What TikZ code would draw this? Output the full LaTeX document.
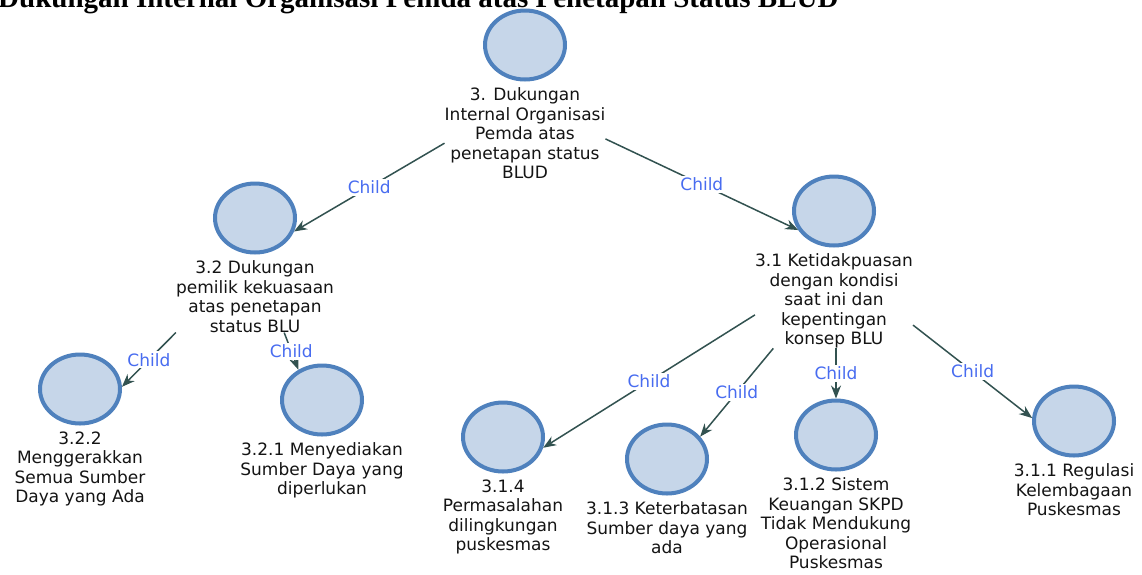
\documentclass[tikz,border=0pt]{standalone}
\usepackage{fontspec}
\usepackage{tikz}
\usetikzlibrary{positioning,shapes.geometric,arrows.meta}
\newfontfamily\diagfont{DejaVu Sans}
\newfontfamily\titlefont{Liberation Serif}
\definecolor{ringblue}{RGB}{79,129,189}
\definecolor{ballfill}{RGB}{198,214,233}
\definecolor{linkgray}{RGB}{50,82,80}
\definecolor{childblue}{RGB}{72,108,240}

\begin{document}
\begin{tikzpicture}[x=1pt, y=-1pt,
        every node/.style={font=\diagfont\fontsize{17}{19.5}\selectfont, align=center, text=black!92, inner sep=0pt},
        ball/.style={ellipse, draw=ringblue, fill=ballfill, line width=4pt, minimum width=80pt, minimum height=69pt},
        linkarrow/.style={draw=linkgray, line width=1.5pt, -{Stealth[length=13pt, width=10pt]}},
        childtag/.style={fill=white, text=childblue, inner sep=2pt}]
        \useasboundingbox (0,0) rectangle (1142,574);
        \fill[white] (0,0) rectangle (1142,574);
        \clip (0,0) rectangle (1142,574);
        \node[font=\titlefont\bfseries\fontsize{29}{30}\selectfont, text=black, anchor=base west] (title) at (-2,7) {Dukungan Internal Organisasi Pemda atas Penetapan Status BLUD};
        % level 0
        \node[ball] (root) at (525,45) {};
        \node[below=6pt of root] (root-t) {3. Dukungan\\Internal Organisasi\\Pemda atas\\penetapan status\\BLUD};
        % level 1
        \node[ball] (n32) at (255,218) {};
        \node[below=6pt of n32] (n32-t) {3.2 Dukungan\\pemilik kekuasaan\\atas penetapan\\status BLU};
        \node[ball] (n31) at (834,211) {};
        \node[below=6pt of n31] (n31-t) {3.1 Ketidakpuasan\\dengan kondisi\\saat ini dan\\kepentingan\\konsep BLU};
        % level 2
        \node[ball] (n322) at (80,389) {};
        \node[below=6pt of n322] (n322-t) {3.2.2\\Menggerakkan\\Semua Sumber\\Daya yang Ada};
        \node[ball] (n321) at (322,400) {};
        \node[below=6pt of n321] (n321-t) {3.2.1 Menyediakan\\Sumber Daya yang\\diperlukan};
        \node[ball] (n314) at (503,437) {};
        \node[below=6pt of n314] (n314-t) {3.1.4\\Permasalahan\\dilingkungan\\puskesmas};
        \node[ball] (n313) at (667,459) {};
        \node[below=6pt of n313] (n313-t) {3.1.3 Keterbatasan\\Sumber daya yang\\ada};
        \node[ball] (n312) at (836,435) {};
        \node[below=6pt of n312] (n312-t) {3.1.2 Sistem\\Keuangan SKPD\\Tidak Mendukung\\Operasional\\Puskesmas};
        \node[ball] (n311) at (1074,421) {};
        \node[below=6pt of n311] (n311-t) {3.1.1 Regulasi\\Kelembagaan\\Puskesmas};
        % links
        \draw[linkarrow] (root-t.187) -- node[childtag] {Child} (n32.341);
        \draw[linkarrow] (root-t.356) -- node[childtag] {Child} (n31.208);
        \draw[linkarrow] (n32-t.south west) -- node[childtag] {Child} (n322.3);
        \draw[linkarrow] (n32-t.309) -- node[childtag] {Child} (n321.128);
        \draw[linkarrow] (n31-t.190) -- node[childtag] {Child} (n314.345);
        \draw[linkarrow] (n31-t.218) -- node[childtag] {Child} (n313.34);
        \draw[linkarrow] (n31-t.south -| n312.north) -- node[childtag] {Child} (n312.north);
        \draw[linkarrow] (n31-t.343) -- node[childtag] {Child} (n311.176);
    \end{tikzpicture}
\end{document}
